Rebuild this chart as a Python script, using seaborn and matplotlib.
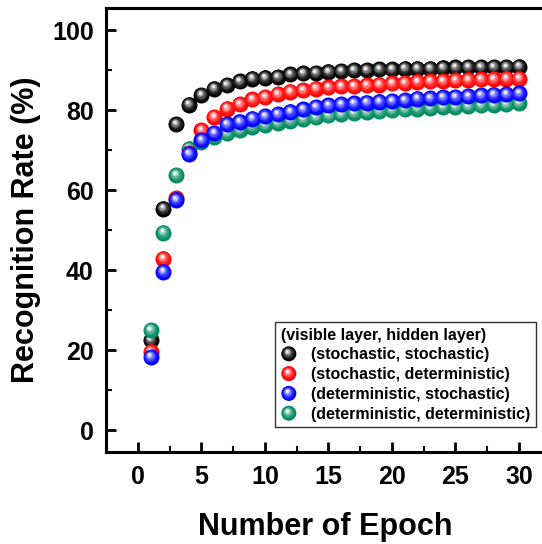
import numpy as np
import pandas as pd
import matplotlib
matplotlib.use("Agg")
import matplotlib.pyplot as plt
import matplotlib.colors as mcolors
from matplotlib.transforms import ScaledTranslation
from matplotlib.legend_handler import HandlerBase
from matplotlib.patches import Circle
from matplotlib.ticker import MultipleLocator
import seaborn as sns

# data
epochs = list(range(1, 31))
stoch_stoch = [22.5, 55.4, 76.5, 81.4, 83.8, 85.4, 86.3, 87.2, 87.9, 88.1,
               88.3, 89.0, 89.2, 89.3, 89.6, 89.8, 90.0, 90.0, 90.2, 90.2,
               90.4, 90.4, 90.4, 90.6, 90.7, 90.8, 90.8, 90.8, 90.8, 90.9]
stoch_det = [19.6, 42.9, 58.0, 69.3, 75.0, 78.3, 80.4, 81.5, 82.7, 83.3,
             84.0, 84.6, 85.0, 85.4, 85.7, 86.0, 86.0, 86.2, 86.4, 86.7,
             86.8, 87.1, 87.2, 87.3, 87.5, 87.6, 87.7, 87.8, 87.9, 87.9]
det_stoch = [18.3, 39.6, 57.6, 69.1, 72.5, 74.3, 76.5, 77.1, 77.9, 78.5,
             79.0, 79.6, 80.2, 80.8, 81.2, 81.5, 81.7, 81.9, 82.1, 82.3,
             82.5, 82.9, 83.0, 83.2, 83.3, 83.5, 83.7, 83.9, 84.0, 84.2]
det_det = [25.0, 49.4, 63.8, 70.4, 72.0, 73.3, 74.2, 75.0, 75.8, 76.3,
           76.8, 77.3, 77.8, 78.2, 78.7, 79.0, 79.3, 79.5, 79.7, 80.0,
           80.2, 80.4, 80.6, 80.8, 80.8, 81.0, 81.2, 81.3, 81.5, 81.8]

labels = ["(stochastic, stochastic)", "(stochastic, deterministic)",
          "(deterministic, stochastic)", "(deterministic, deterministic)"]
series = [stoch_stoch, stoch_det, det_stoch, det_det]
colors = ["#000000", "#ff0000", "#0000ff", "#008b5f"]
draw_order = [0, 3, 1, 2]

sns.set_theme(style="ticks")
plt.rcParams["font.family"] = ["Liberation Sans", "DejaVu Sans"]
plt.rcParams["font.weight"] = "bold"
plt.rcParams["axes.labelweight"] = "bold"
for key in ["text.color", "axes.labelcolor", "xtick.color", "ytick.color"]:
    plt.rcParams[key] = "black"

fig = plt.figure(figsize=(5.42, 5.44), dpi=100)
ax = fig.add_axes([0.196, 0.169, 0.8084, 0.816])

R = 0.08  # ball radius, inches
n_layers = 9
hl = (-0.2, 0.3)  # highlight centre relative to radius


def shade(c, t):
    rgb = np.array(mcolors.to_rgb(c))
    f = 0.95 * t ** 1.8
    return tuple(rgb * (1 - f) + f)


for rank, i in enumerate(draw_order):
    z = 3 + rank * 20
    sns.scatterplot(x=epochs, y=series[i], color=colors[i], s=(2 * R * 72) ** 2,
                    linewidth=0, ax=ax, zorder=z, legend=False)
    for k in range(1, n_layers + 1):
        t = k / n_layers
        r = R * (1 - 0.82 * t)
        off = ScaledTranslation(hl[0] * R * t, hl[1] * R * t, fig.dpi_scale_trans)
        ax.scatter(epochs, series[i], s=(2 * r * 72) ** 2, color=shade(colors[i], t),
                   linewidth=0, zorder=z + k, transform=ax.transData + off)


class SphereHandler(HandlerBase):
    def create_artists(self, legend, orig_handle, xdescent, ydescent,
                       width, height, fontsize, trans):
        cx = width / 2 - xdescent
        cy = height / 2 - ydescent
        rad = 5.4
        arts = []
        for k in range(0, n_layers + 1):
            t = k / n_layers
            r = rad * (1 - 0.82 * t)
            arts.append(Circle((cx + hl[0] * rad * t, cy + hl[1] * rad * t), r,
                               facecolor=shade(orig_handle, t) if k else orig_handle,
                               edgecolor="none", transform=trans))
        return arts


ax.set_xlim(-2.5, 32)
ax.set_ylim(-5.5, 105.5)
ax.xaxis.set_major_locator(MultipleLocator(5))
ax.xaxis.set_minor_locator(MultipleLocator(2.5))
ax.yaxis.set_major_locator(MultipleLocator(20))
ax.yaxis.set_minor_locator(MultipleLocator(10))
ax.tick_params(which="major", direction="in", length=7, width=2, labelsize=18, pad=9)
ax.tick_params(which="minor", direction="in", length=4, width=1.5)
for lab in ax.get_xticklabels() + ax.get_yticklabels():
    lab.set_fontweight("bold")
for side in ["left", "bottom", "top"]:
    ax.spines[side].set_linewidth(2.2)
    ax.spines[side].set_color("black")
ax.spines["right"].set_visible(False)

ax.set_xlabel("Number of Epoch", fontsize=22, fontweight="bold", labelpad=17)
ax.set_ylabel("Recognition Rate (%)", fontsize=22, fontweight="bold", labelpad=8)

leg = ax.legend(colors, labels, handler_map={str: SphereHandler()},
                title="(visible layer, hidden layer)",
                title_fontproperties={"weight": "bold", "size": 11.5},
                prop={"weight": "bold", "size": 11.5}, alignment="left",
                loc="upper right", bbox_to_anchor=(0.989, 0.408),
                bbox_transform=fig.transFigure, borderaxespad=0,
                frameon=True, fancybox=False, framealpha=1, edgecolor="#333333",
                labelspacing=0.3, handlelength=1.0, handletextpad=0.9,
                borderpad=0.35)
leg.get_frame().set_linewidth(1)
leg.set_zorder(200)

fig.savefig("out.png", dpi=100)
